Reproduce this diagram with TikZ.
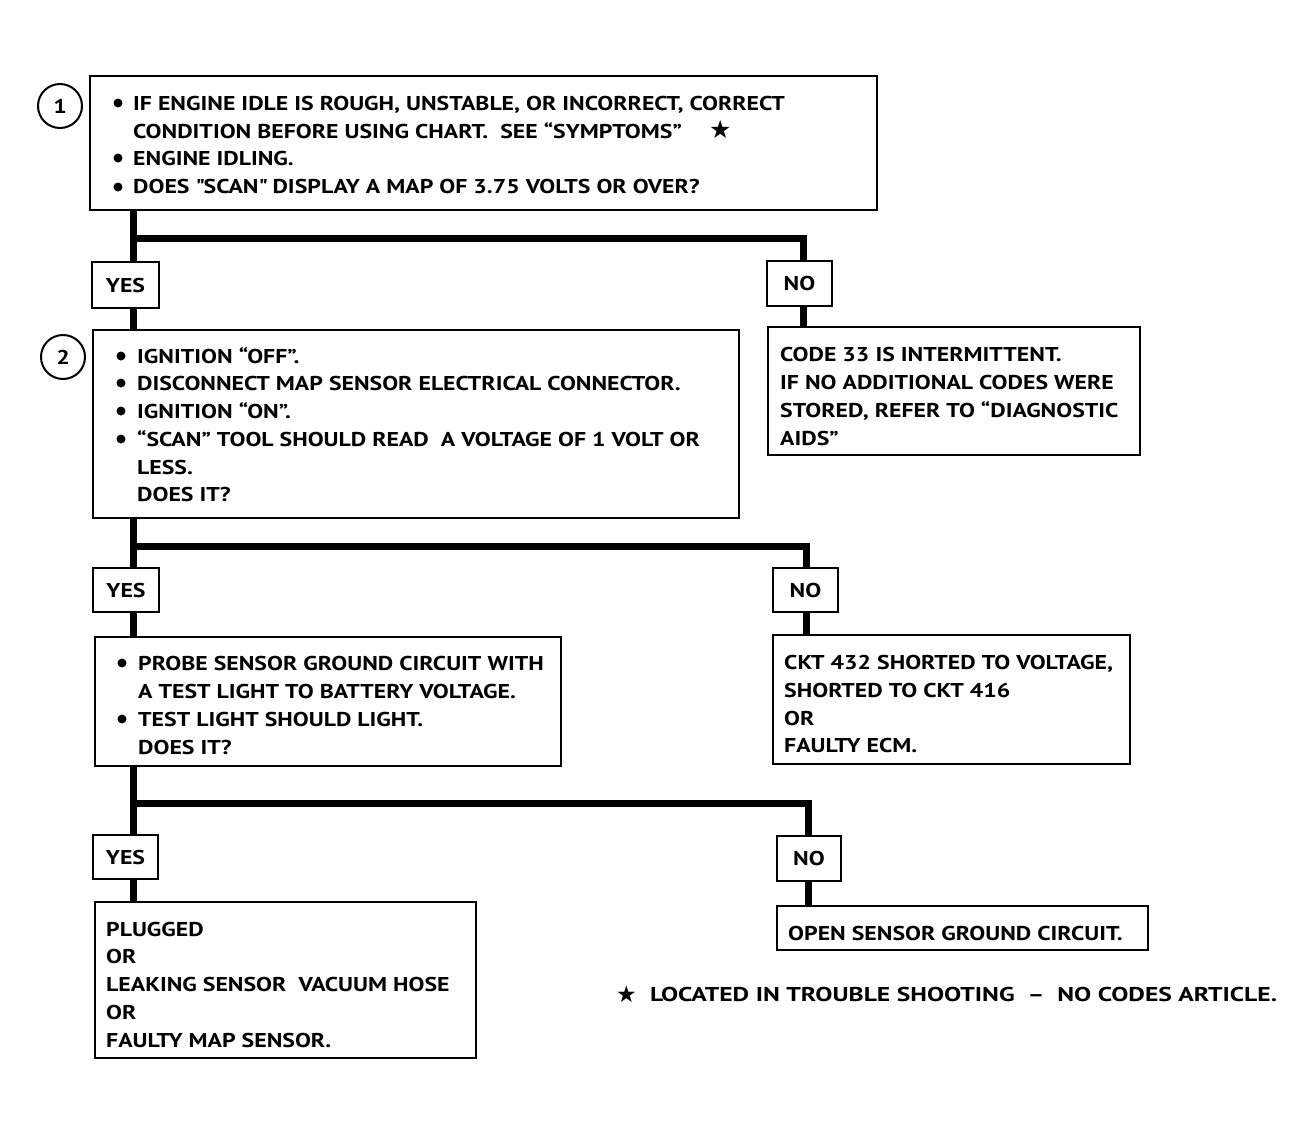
\documentclass[tikz,border=0pt]{standalone}
\usepackage{fontspec}
\setmainfont{PT Sans}[FakeStretch=1.19]
\newfontfamily\notefont{PT Sans}[FakeStretch=1.28,Ligatures=TeX]
\newfontfamily\symfont{DejaVu Sans}
\begin{document}
\begin{tikzpicture}[x=1pt,y=-1pt,
  box/.style={draw,line width=2pt,inner sep=0pt,minimum width=#1},
  lbl/.style={draw,line width=2pt,inner sep=0pt,font=\fontsize{20}{24}\selectfont\bfseries},
  txt/.style={anchor=base west,inner sep=0pt,font=\fontsize{20}{24}\selectfont\bfseries},
  conn/.style={line width=7pt,line join=miter,line cap=butt},
  num/.style={circle,draw,line width=2pt,minimum size=44pt,inner sep=0pt,font=\fontsize{20}{24}\selectfont\bfseries},
  bul/.style={circle,fill,inner sep=0pt,minimum size=9pt}]
\useasboundingbox (0,0) rectangle (1314,1136);
% boxes
\node[box=787,minimum height=134] (b1) at (483.5,143) {};
\node[lbl,minimum width=67,minimum height=46] (yes1) at (125.5,285) {YES};
\node[lbl,minimum width=65,minimum height=45] (no1) at (799.5,283.5) {NO};
\node[box=646,minimum height=188] (b2) at (416,424) {};
\node[box=372,minimum height=128] (n1) at (954,391) {};
\node[lbl,minimum width=66,minimum height=44] (yes2) at (126,590) {YES};
\node[lbl,minimum width=65,minimum height=44] (no2) at (805.5,590) {NO};
\node[box=466,minimum height=129] (b3) at (328,701.5) {};
\node[box=357,minimum height=129] (n2) at (951.5,699.5) {};
\node[lbl,minimum width=65,minimum height=44] (yes3) at (125.5,857) {YES};
\node[lbl,minimum width=64,minimum height=45] (no3) at (809,858.5) {NO};
\node[box=381,minimum height=156] (b4) at (285.5,980) {};
\node[box=371,minimum height=44] (n3) at (962.5,928) {};
% step numbers
\node[num] (c1) at (60,106) {1};
\node[num] (c2) at (63,357) {2};
% box 1 text
\node[bul] (p1a) at (118,103) {};
\node[txt] (t1a) at (133,110) {IF ENGINE IDLE IS ROUGH, UNSTABLE, OR INCORRECT, CORRECT};
\node[txt] (t1b) at (133,138) {CONDITION BEFORE USING CHART.\ \ SEE ``SYMPTOMS''};
\node[txt,font=\fontsize{25}{24}\selectfont] (s1) at (709,138) {\symfont ★};
\node[bul] (p1c) at (118,158) {};
\node[txt] (t1c) at (133,165) {ENGINE IDLING.};
\node[bul] (p1d) at (118,187) {};
\node[txt] (t1d) at (133,193) {DOES \textquotedbl SCAN\textquotedbl\ DISPLAY A MAP OF 3.75 VOLTS OR OVER?};
% box 2 text
\node[bul] (p2a) at (121,356) {};
\node[txt] (t2a) at (137,363) {IGNITION ``OFF''.};
\node[bul] (p2b) at (121,383) {};
\node[txt] (t2b) at (137,390) {DISCONNECT MAP SENSOR ELECTRICAL CONNECTOR.};
\node[bul] (p2c) at (121,411) {};
\node[txt] (t2c) at (137,418) {IGNITION ``ON''.};
\node[bul] (p2d) at (121,439) {};
\node[txt] (t2d) at (137,446) {``SCAN'' TOOL SHOULD READ\ \ A VOLTAGE OF 1 VOLT OR};
\node[txt] (t2e) at (137,474) {LESS.};
\node[txt] (t2f) at (137,501) {DOES IT?};
% no 1 text
\node[txt] (u1a) at (780,361) {CODE 33 IS INTERMITTENT.};
\node[txt] (u1b) at (780,389) {IF NO ADDITIONAL CODES WERE};
\node[txt] (u1c) at (780,417) {STORED, REFER TO ``DIAGNOSTIC};
\node[txt] (u1d) at (780,445) {AIDS''};
% box 3 text
\node[bul] (p3a) at (122,663) {};
\node[txt] (t3a) at (138,670) {PROBE SENSOR GROUND CIRCUIT WITH};
\node[txt] (t3b) at (138,698) {A TEST LIGHT TO BATTERY VOLTAGE.};
\node[bul] (p3c) at (122,719) {};
\node[txt] (t3c) at (138,726) {TEST LIGHT SHOULD LIGHT.};
\node[txt] (t3d) at (138,754) {DOES IT?};
% no 2 text
\node[txt] (u2a) at (784,669) {CKT 432 SHORTED TO VOLTAGE,};
\node[txt] (u2b) at (784,697) {SHORTED TO CKT 416};
\node[txt] (u2c) at (784,725) {OR};
\node[txt] (u2d) at (784,752) {FAULTY ECM.};
% box 4 text
\node[txt] (t4a) at (106,936) {PLUGGED};
\node[txt] (t4b) at (106,963) {OR};
\node[txt] (t4c) at (106,991) {LEAKING SENSOR\ \ VACUUM HOSE};
\node[txt] (t4d) at (106,1019) {OR};
\node[txt] (t4e) at (106,1047) {FAULTY MAP SENSOR.};
% no 3 text
\node[txt] (u3a) at (788,940) {OPEN SENSOR GROUND CIRCUIT.};
% footnote
\node[txt,font=\fontsize{23}{24}\selectfont] (fs) at (616,1002) {\symfont ★};
\node[txt] (fn) at (650,1001) {\notefont LOCATED IN TROUBLE SHOOTING\ \ \textendash\ \ NO CODES ARTICLE.};
% connectors
\coordinate (j1) at (133,238); \coordinate (k1) at (803,238);
\coordinate (j2) at (133,546); \coordinate (k2) at (806,546);
\coordinate (j3) at (133,803); \coordinate (k3) at (808,803);
\draw[conn] (j1 |- b1.south) -- (j1 |- yes1.north);
\draw[conn] (j1) -- (k1) -- (k1 |- no1.north);
\draw[conn] (j1 |- yes1.south) -- (j1 |- b2.north);
\draw[conn] (k1 |- no1.south) -- (k1 |- n1.north);
\draw[conn] (j2 |- b2.south) -- (j2 |- yes2.north);
\draw[conn] (j2) -- (k2) -- (k2 |- no2.north);
\draw[conn] (j2 |- yes2.south) -- (j2 |- b3.north);
\draw[conn] (k2 |- no2.south) -- (k2 |- n2.north);
\draw[conn] (j3 |- b3.south) -- (j3 |- yes3.north);
\draw[conn] (j3) -- (k3) -- (k3 |- no3.north);
\draw[conn] (j3 |- yes3.south) -- (j3 |- b4.north);
\draw[conn] (k3 |- no3.south) -- (k3 |- n3.north);
\end{tikzpicture}
\end{document}
